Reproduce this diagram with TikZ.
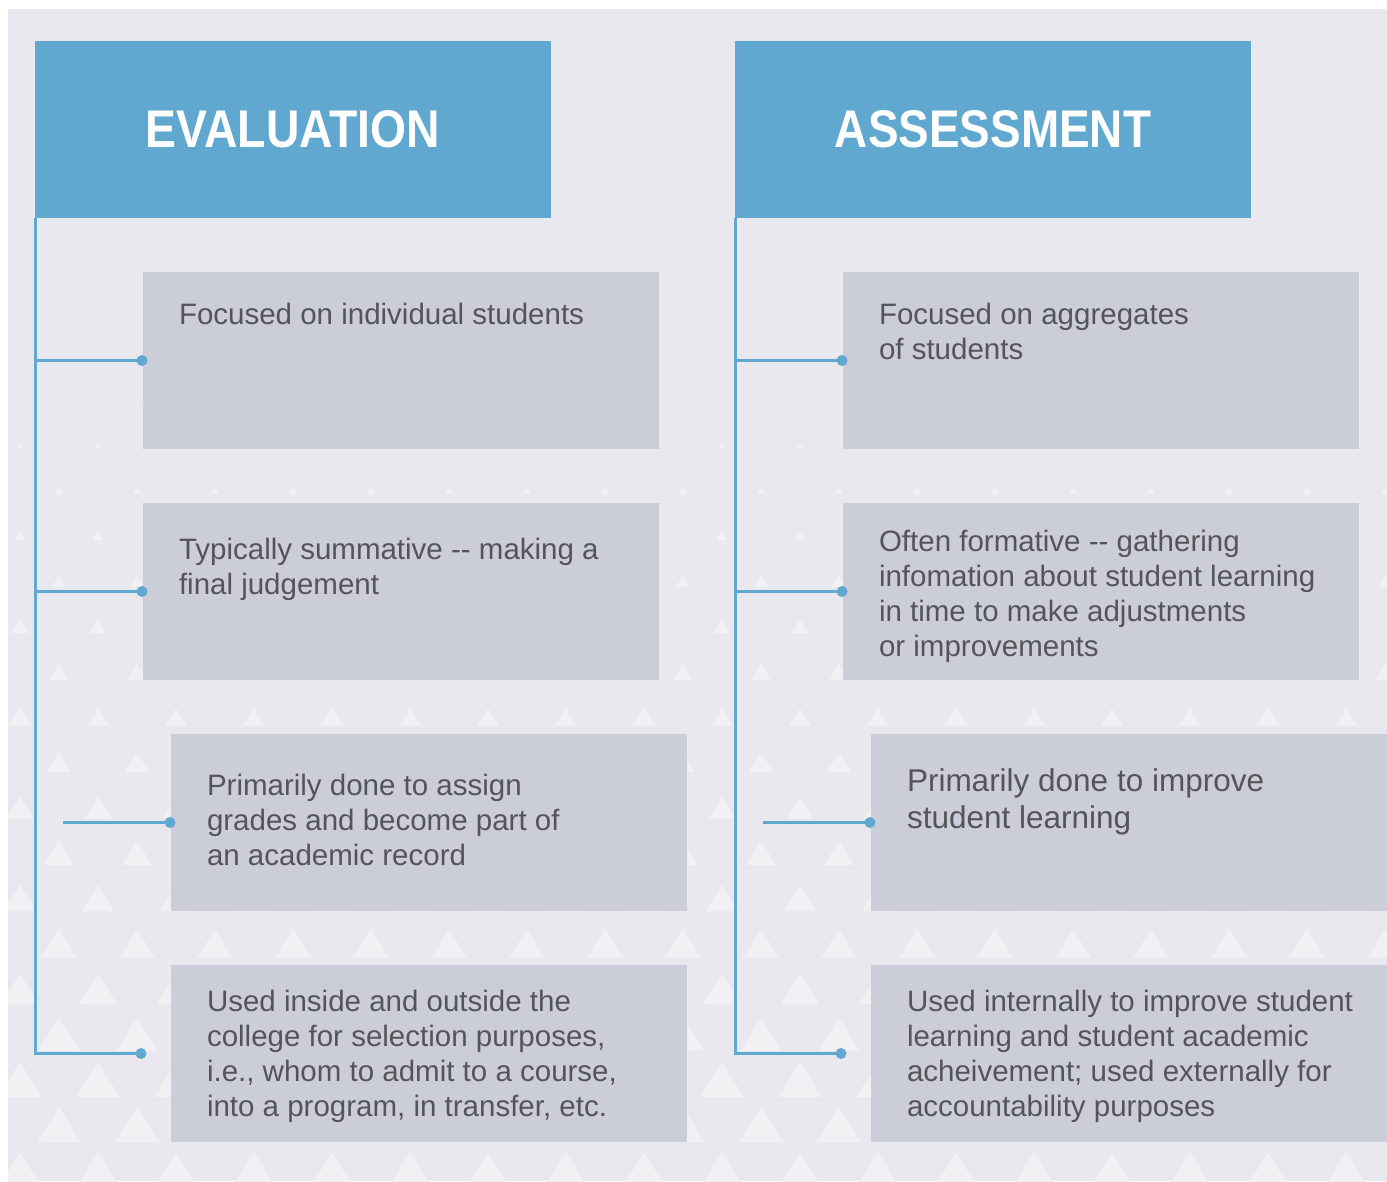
\documentclass[tikz,border=0pt]{standalone}
\usepackage{graphicx}
\usepackage{fontspec}
\setmainfont{Liberation Sans}
\definecolor{bgcol}{HTML}{E9E8EE}
\definecolor{hdrblue}{HTML}{61A8D1}
\definecolor{boxgray}{HTML}{CBCDD9}
\definecolor{txtgray}{HTML}{555559}
\definecolor{tricol}{HTML}{F1F1F3}
\begin{document}
\begin{tikzpicture}[x=1pt,y=-1pt,
  hdr/.style={fill=hdrblue,draw=none,inner sep=0,outer sep=0,anchor=north west,
    minimum width=516pt,minimum height=177pt,text=white,font=\bfseries},
  card/.style={fill=boxgray,draw=none,inner sep=0,outer sep=0,anchor=north west,
    minimum width=516pt,minimum height=177pt},
  txt/.style={inner sep=0,outer sep=0,anchor=north west,align=left,text=txtgray,
    font=\fontsize{29.5}{35}\selectfont},
  bigtxt/.style={txt,font=\fontsize{31.5}{37}\selectfont},
  conn/.style={draw=hdrblue,line width=3pt},
  dot/.style={fill=hdrblue}]
% canvas
\useasboundingbox (0,0) rectangle (1387,1181);
\fill[white] (0,0) rectangle (1387,1181);
\fill[bgcol] (8,9) rectangle (1387,1181);
% triangle texture, growing towards the bottom
\begin{scope}
\clip (8,9) rectangle (1387,1181);
\foreach \i in {0,...,17}{
  \pgfmathsetmacro\yy{400+45.3*\i}
  \pgfmathsetmacro\off{ifthenelse(mod(\i,2)==0,59,20)}
  \pgfmathsetmacro\w{min(44,3+0.06*(\yy-400))}
  \pgfmathsetmacro\h{0.8*\w}
  \foreach \k in {-1,...,18}{
    \fill[tricol] ({\off+78*\k},{\yy-\h/2}) -- ++({\w/2},{\h}) -- ++({-\w},0) -- cycle;
  }
}
\end{scope}
% headers
\node[hdr] (hdrL) at (35,41) {\resizebox{294pt}{37pt}{EVALUATION}};
\node[hdr] (hdrR) at (735,41) {\resizebox{316pt}{37pt}{ASSESSMENT}};
% cards
\node[card] (b1L) at (143,272) {};
\node[card] (b2L) at (143,503) {};
\node[card] (b3L) at (171,734) {};
\node[card] (b4L) at (171,965) {};
\node[card] (b1R) at (843,272) {};
\node[card] (b2R) at (843,503) {};
\node[card] (b3R) at (871,734) {};
\node[card] (b4R) at (871,965) {};
% card texts
\node[txt] (t1L) at ([shift={(36,27.5)}]b1L.north west) {\strut Focused on individual students};
\node[txt] (t2L) at ([shift={(36,31.5)}]b2L.north west) {\strut Typically summative -{}- making a\\final judgement};
\node[txt] (t3L) at ([shift={(36,36.5)}]b3L.north west) {\strut Primarily done to assign\\grades and become part of\\an academic record};
\node[txt] (t4L) at ([shift={(36,21.5)}]b4L.north west) {\strut Used inside and outside the\\college for selection purposes,\\i.e., whom to admit to a course,\\into a program, in transfer, etc.};
\node[txt] (t1R) at ([shift={(36,27.5)}]b1R.north west) {\strut Focused on aggregates\\of students};
\node[txt] (t2R) at ([shift={(36,23.5)}]b2R.north west) {\strut Often formative -{}- gathering\\infomation about student learning\\in time to make adjustments\\or improvements};
\node[bigtxt] (t3R) at ([shift={(36,32)}]b3R.north west) {\strut Primarily done to improve\\student learning};
\node[txt] (t4R) at ([shift={(36,21.5)}]b4R.north west) {\strut Used internally to improve student\\learning and student academic\\acheivement; used externally for\\accountability purposes};
% branch end points that stop short of their cards
\coordinate (s3L) at ([xshift=-108pt]b3L.west);
\coordinate (e4L) at ([xshift=-29pt]b4L.west);
\coordinate (s3R) at ([xshift=-108pt]b3R.west);
\coordinate (e4R) at ([xshift=-29pt]b4R.west);
% connectors, left column
\draw[conn] (hdrL.south west) |- (e4L);
\draw[conn] (hdrL.south west |- b1L.west) -- (b1L.west);
\draw[conn] (hdrL.south west |- b2L.west) -- (b2L.west);
\draw[conn] (s3L) -- (b3L.west);
% connectors, right column
\draw[conn] (hdrR.south west) |- (e4R);
\draw[conn] (hdrR.south west |- b1R.west) -- (b1R.west);
\draw[conn] (hdrR.south west |- b2R.west) -- (b2R.west);
\draw[conn] (s3R) -- (b3R.west);
% end dots
\foreach \n in {b1L.west,b2L.west,b3L.west,e4L,b1R.west,b2R.west,b3R.west,e4R}{
  \fill[dot] ([xshift=-1pt]\n) circle (5.5pt);
}
\end{tikzpicture}
\end{document}
